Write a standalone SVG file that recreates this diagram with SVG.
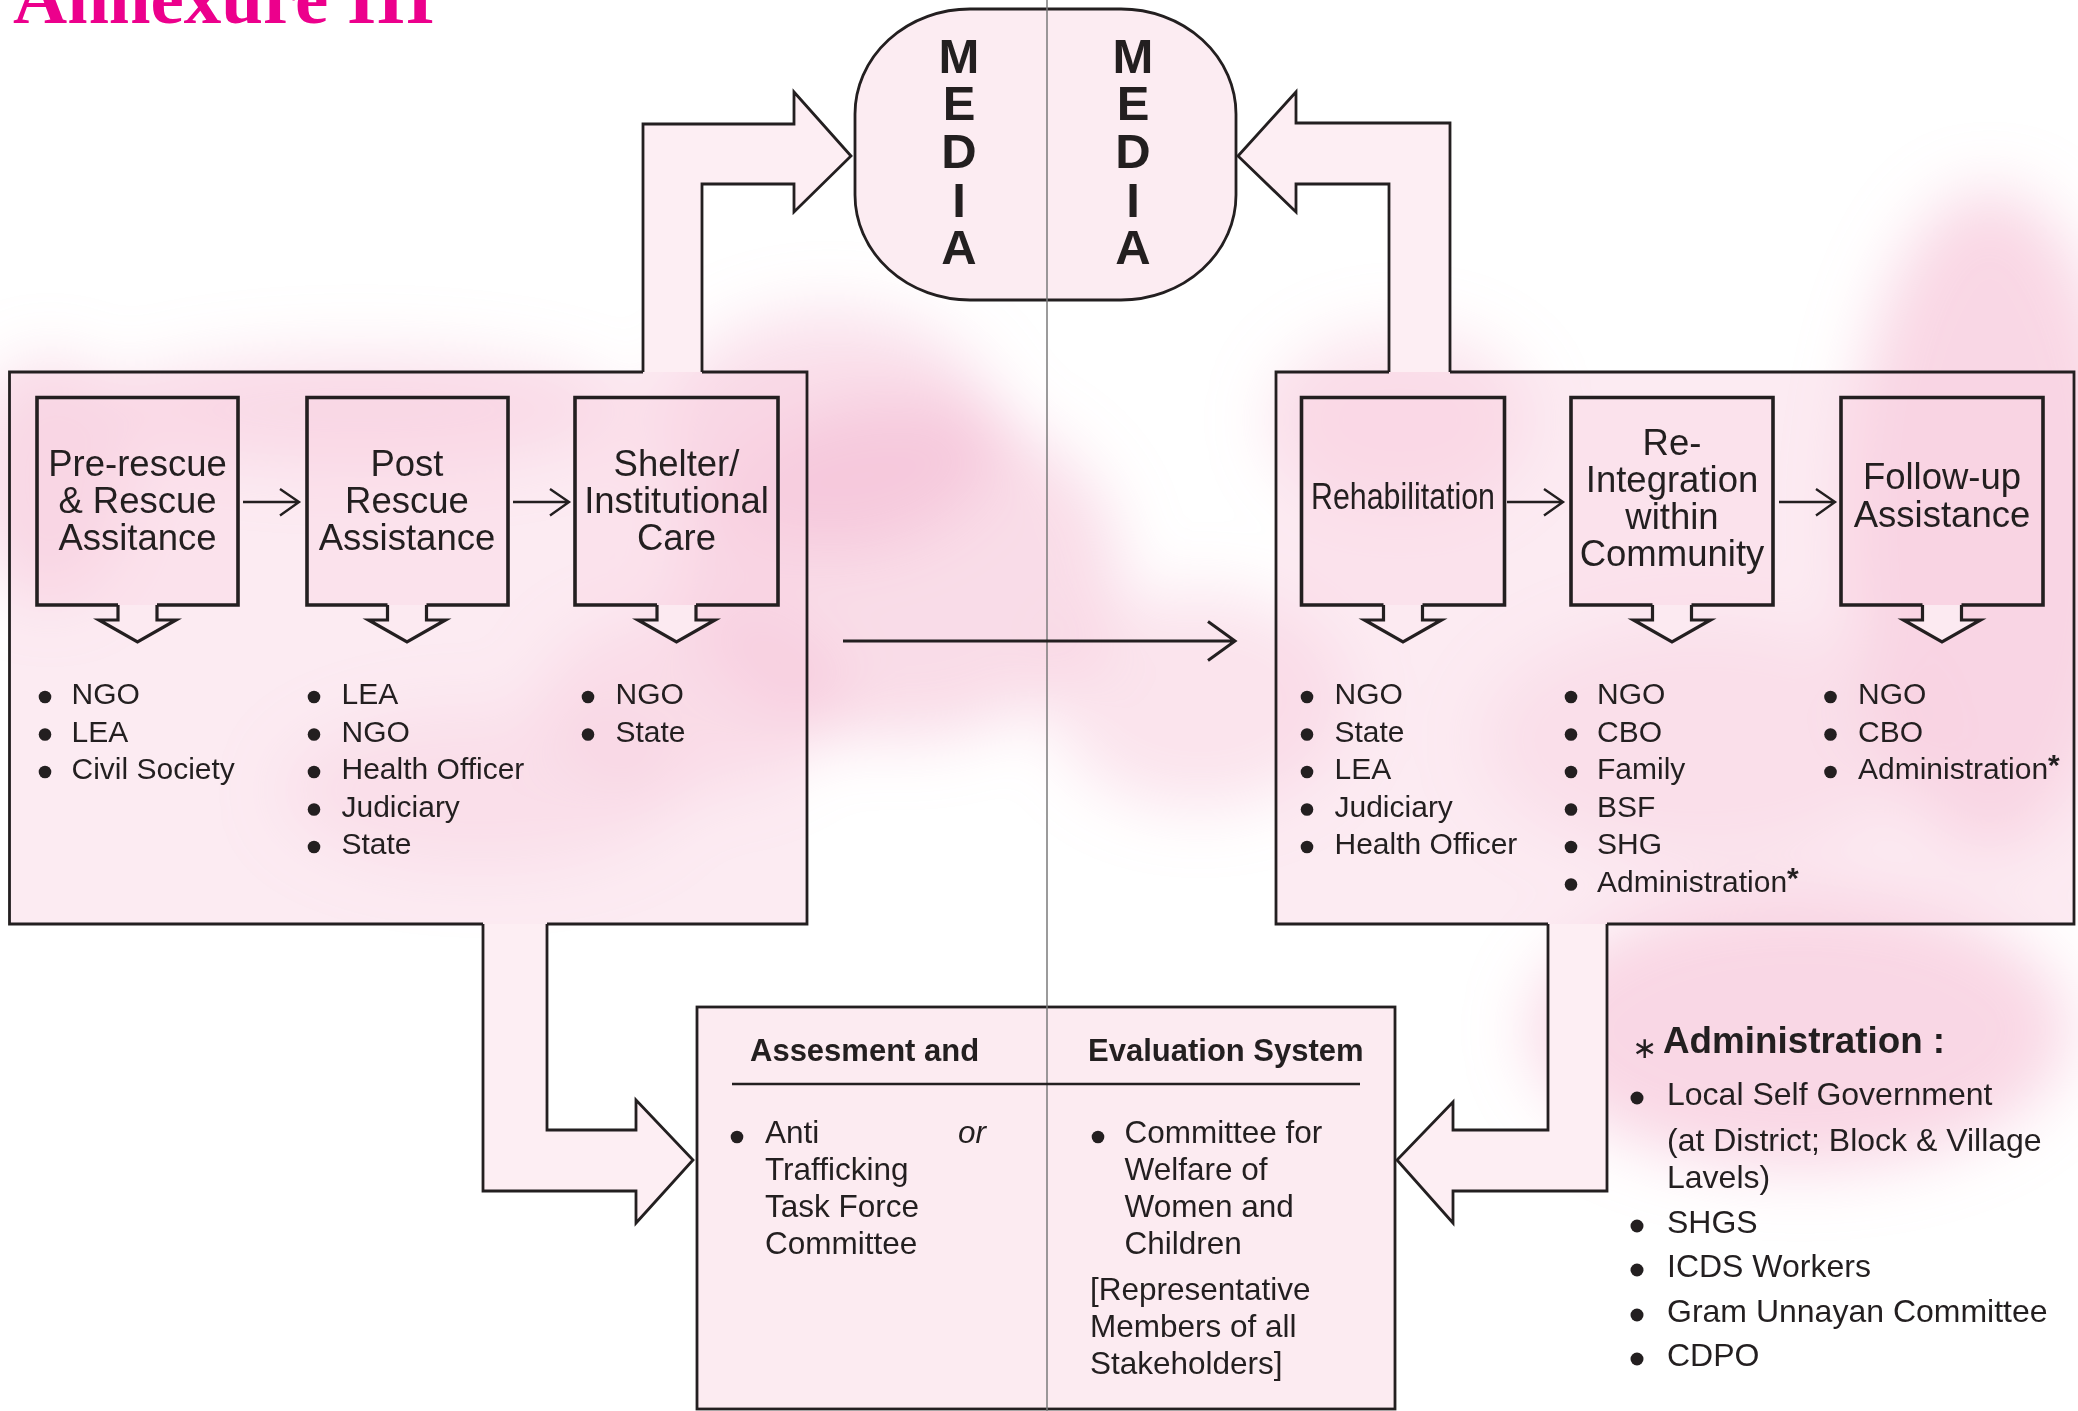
<svg xmlns="http://www.w3.org/2000/svg" width="2078" height="1411" viewBox="0 0 2078 1411">
<defs>
<filter id="smoke" x="-50%" y="-50%" width="200%" height="200%"><feGaussianBlur stdDeviation="32"/></filter>
<style>
.t{font-family:"Liberation Sans",Arial,sans-serif;fill:#231F20}
.bx{font-size:36.5px;text-anchor:middle}
.li{font-size:30px}
.ev{font-size:31.5px}
.lg{font-size:32px}
.hd{font-size:31px;font-weight:bold}
.md{font-size:49px;font-weight:bold;text-anchor:middle}
.ol{fill:none;stroke:#231F20;stroke-width:2.8;stroke-linejoin:miter}
.big{fill:#F9D3E2;fill-opacity:0.45;stroke:none}
.ib{fill:#F9D3E2;fill-opacity:0.35;stroke:#231F20;stroke-width:3.6;stroke-linejoin:miter}
.ba{fill:#FDEEF3;stroke:#231F20;stroke-width:2.8;stroke-linejoin:miter}
.da{fill:#FCEAF1;stroke:#231F20;stroke-width:3.2;stroke-linejoin:miter}
.sa{fill:none;stroke:#231F20;stroke-width:2.4}
.dot{fill:#231F20}
</style>
</defs>
<rect width="2078" height="1411" fill="#FFFFFF"/>
<g id="background-smoke" filter="url(#smoke)" fill="#F1A7C5">
<ellipse cx="900" cy="570" rx="220" ry="170" opacity="0.4"/>
<ellipse cx="830" cy="430" rx="170" ry="120" opacity="0.35"/>
<ellipse cx="50" cy="480" rx="80" ry="120" opacity="0.4"/>
<ellipse cx="360" cy="410" rx="260" ry="55" opacity="0.35"/>
<ellipse cx="1990" cy="520" rx="140" ry="330" opacity="0.45"/>
<ellipse cx="1800" cy="1030" rx="270" ry="140" opacity="0.45"/>
<ellipse cx="690" cy="700" rx="150" ry="90" opacity="0.3"/>
<ellipse cx="1200" cy="700" rx="150" ry="110" opacity="0.3"/>
<ellipse cx="480" cy="790" rx="200" ry="80" opacity="0.25"/>
<ellipse cx="1400" cy="420" rx="130" ry="90" opacity="0.3"/>
<ellipse cx="1700" cy="740" rx="220" ry="120" opacity="0.25"/>
</g>
<g id="title">
<text x="13" y="23" style="font-family:'Liberation Serif','Times New Roman',serif;font-weight:bold;font-size:75px;fill:#EC008C">Annexure III</text>
</g>
<g id="stage-rescue">
<rect class="big" x="9.5" y="372" width="797.5" height="552"/>
<path class="ol" d="M643,372 H9.5 V924 H483 M547,924 H807 V372 H702"/>
</g>
<g id="stage-reintegration">
<rect class="big" x="1276" y="372" width="798" height="552"/>
<path class="ol" d="M1389,372 H1276 V924 H1548 M1607,924 H2074 V372 H1450"/>
</g>
<g id="media">
<rect x="855" y="9" width="381" height="291" rx="115" ry="105" fill="#FCECF2" stroke="#231F20" stroke-width="2.8"/>
<text class="t md" x="959" y="73">M</text>
<text class="t md" x="959" y="120">E</text>
<text class="t md" x="959" y="168">D</text>
<text class="t md" x="959" y="217">I</text>
<text class="t md" x="959" y="264">A</text>
<text class="t md" x="1133" y="73">M</text>
<text class="t md" x="1133" y="120">E</text>
<text class="t md" x="1133" y="168">D</text>
<text class="t md" x="1133" y="217">I</text>
<text class="t md" x="1133" y="264">A</text>
</g>
<g id="assessment">
<rect x="697" y="1007" width="698" height="402" fill="#FCEBF1" stroke="#231F20" stroke-width="2.8"/>
</g>
<g id="divider">
<line x1="1047" y1="0" x2="1047" y2="1411" stroke="#7A7A7A" stroke-width="1.5"/>
</g>
<g id="connectors">
<path class="ba" d="M643,372 V124 H794 V92 L851,156 L794,212 V184 H702 V372"/>
<path class="ba" d="M1450,372 V123 H1296 V92 L1238,156 L1296,212 V184 H1389 V372"/>
<path class="ba" d="M483,924 V1191 H636 V1223 L693,1160 L636,1100 V1130 H547 V924"/>
<path class="ba" d="M1607,924 V1191 H1453 V1223 L1397,1160 L1453,1102 V1130 H1548 V924"/>
<path class="sa" d="M243,502 H298 M280,489 L299,502 L280,515.5"/>
<path class="sa" d="M513,502 H568 M550,489 L569,502 L550,515.5"/>
<path class="sa" d="M1507,502 H1562 M1544,489 L1563,502 L1544,515.5"/>
<path class="sa" d="M1779,502 H1834 M1816,489 L1835,502 L1816,515.5"/>
<path fill="none" stroke="#231F20" stroke-width="3" d="M843,641 H1234 M1208,621.5 L1235,641 L1208,660.5"/>
<path class="da" d="M118,605 V620 H99 L137.5,642 L176,620 H157 V605"/>
<path class="da" d="M387.5,605 V620 H368.5 L407,642 L445.5,620 H426.5 V605"/>
<path class="da" d="M657,605 V620 H638 L676.5,642 L715,620 H696 V605"/>
<path class="da" d="M1383.5,605 V620 H1364.5 L1403,642 L1441.5,620 H1422.5 V605"/>
<path class="da" d="M1652.5,605 V620 H1633.5 L1672,642 L1710.5,620 H1691.5 V605"/>
<path class="da" d="M1922.5,605 V620 H1903.5 L1942,642 L1980.5,620 H1961.5 V605"/>
</g>
<g id="pre-rescue">
<path class="ib" d="M118,605 H37 V397.5 H238 V605 H157"/>
<text class="t bx" x="137.5" y="476">Pre-rescue</text>
<text class="t bx" x="137.5" y="513">&amp; Rescue</text>
<text class="t bx" x="137.5" y="550">Assitance</text>
<circle class="dot" cx="45" cy="697" r="6.3"/><text class="t li" x="71.5" y="704">NGO</text>
<circle class="dot" cx="45" cy="734.5" r="6.3"/><text class="t li" x="71.5" y="741.5">LEA</text>
<circle class="dot" cx="45" cy="772" r="6.3"/><text class="t li" x="71.5" y="779">Civil Society</text>
</g>
<g id="post-rescue">
<path class="ib" d="M387.5,605 H307 V397.5 H508 V605 H426.5"/>
<text class="t bx" x="407" y="476">Post</text>
<text class="t bx" x="407" y="513">Rescue</text>
<text class="t bx" x="407" y="550">Assistance</text>
<circle class="dot" cx="314" cy="697" r="6.3"/><text class="t li" x="341.5" y="704">LEA</text>
<circle class="dot" cx="314" cy="734.5" r="6.3"/><text class="t li" x="341.5" y="741.5">NGO</text>
<circle class="dot" cx="314" cy="772" r="6.3"/><text class="t li" x="341.5" y="779">Health Officer</text>
<circle class="dot" cx="314" cy="809.5" r="6.3"/><text class="t li" x="341.5" y="816.5">Judiciary</text>
<circle class="dot" cx="314" cy="847" r="6.3"/><text class="t li" x="341.5" y="854">State</text>
</g>
<g id="shelter">
<path class="ib" d="M657,605 H575 V397.5 H778 V605 H696"/>
<text class="t bx" x="676.5" y="476">Shelter/</text>
<text class="t bx" x="676.5" y="513">Institutional</text>
<text class="t bx" x="676.5" y="550">Care</text>
<circle class="dot" cx="588" cy="697" r="6.3"/><text class="t li" x="615.5" y="704">NGO</text>
<circle class="dot" cx="588" cy="734.5" r="6.3"/><text class="t li" x="615.5" y="741.5">State</text>
</g>
<g id="rehabilitation">
<path class="ib" d="M1383.5,605 H1301.5 V397.5 H1504.5 V605 H1422.5"/>
<text class="t bx" x="1403" y="509" textLength="184" lengthAdjust="spacingAndGlyphs">Rehabilitation</text>
<circle class="dot" cx="1307" cy="697" r="6.3"/><text class="t li" x="1334.5" y="704">NGO</text>
<circle class="dot" cx="1307" cy="734.5" r="6.3"/><text class="t li" x="1334.5" y="741.5">State</text>
<circle class="dot" cx="1307" cy="772" r="6.3"/><text class="t li" x="1334.5" y="779">LEA</text>
<circle class="dot" cx="1307" cy="809.5" r="6.3"/><text class="t li" x="1334.5" y="816.5">Judiciary</text>
<circle class="dot" cx="1307" cy="847" r="6.3"/><text class="t li" x="1334.5" y="854">Health Officer</text>
</g>
<g id="reintegration">
<path class="ib" d="M1652.5,605 H1571 V397.5 H1773 V605 H1691.5"/>
<text class="t bx" x="1672" y="455">Re-</text>
<text class="t bx" x="1672" y="492">Integration</text>
<text class="t bx" x="1672" y="529">within</text>
<text class="t bx" x="1672" y="566">Community</text>
<circle class="dot" cx="1571" cy="697" r="6.3"/><text class="t li" x="1597" y="704">NGO</text>
<circle class="dot" cx="1571" cy="734.5" r="6.3"/><text class="t li" x="1597" y="741.5">CBO</text>
<circle class="dot" cx="1571" cy="772" r="6.3"/><text class="t li" x="1597" y="779">Family</text>
<circle class="dot" cx="1571" cy="809.5" r="6.3"/><text class="t li" x="1597" y="816.5">BSF</text>
<circle class="dot" cx="1571" cy="847" r="6.3"/><text class="t li" x="1597" y="854">SHG</text>
<circle class="dot" cx="1571" cy="884.5" r="6.3"/><text class="t li" x="1597" y="891.5">Administration<tspan font-weight="bold" dy="-4">*</tspan></text>
</g>
<g id="follow-up">
<path class="ib" d="M1922.5,605 H1841 V397.5 H2043 V605 H1961.5"/>
<text class="t bx" x="1942" y="489">Follow-up</text>
<text class="t bx" x="1942" y="527">Assistance</text>
<circle class="dot" cx="1830.5" cy="697" r="6.3"/><text class="t li" x="1858" y="704">NGO</text>
<circle class="dot" cx="1830.5" cy="734.5" r="6.3"/><text class="t li" x="1858" y="741.5">CBO</text>
<circle class="dot" cx="1830.5" cy="772" r="6.3"/><text class="t li" x="1858" y="779">Administration<tspan font-weight="bold" dy="-4">*</tspan></text>
</g>
<g id="assessment-content">
<text class="t hd" x="750" y="1061">Assesment and</text>
<text class="t hd" x="1088" y="1061">Evaluation System</text>
<line x1="732" y1="1084" x2="1360" y2="1084" stroke="#231F20" stroke-width="2.6"/>
<circle class="dot" cx="737" cy="1137" r="6.3"/>
<text class="t ev" x="765" y="1143">Anti</text>
<text class="t ev" x="958" y="1143" font-style="italic">or</text>
<text class="t ev" x="765" y="1180">Trafficking</text>
<text class="t ev" x="765" y="1217">Task Force</text>
<text class="t ev" x="765" y="1254">Committee</text>
<circle class="dot" cx="1098" cy="1137" r="6.3"/>
<text class="t ev" x="1124.5" y="1143">Committee for</text>
<text class="t ev" x="1124.5" y="1180">Welfare of</text>
<text class="t ev" x="1124.5" y="1217">Women and</text>
<text class="t ev" x="1124.5" y="1254">Children</text>
<text class="t ev" x="1090" y="1300">[Representative</text>
<text class="t ev" x="1090" y="1337">Members of all</text>
<text class="t ev" x="1090" y="1374">Stakeholders]</text>
</g>
<g id="legend">
<text class="t" x="1632" y="1058" style="font-family:'DejaVu Sans',sans-serif;font-size:30px">∗</text>
<text class="t" x="1663" y="1053" style="font-size:36.8px;font-weight:bold">Administration :</text>
<circle class="dot" cx="1637" cy="1098" r="6.5"/><text class="t lg" x="1667" y="1105">Local Self Government</text>
<text class="t lg" x="1667" y="1151">(at District; Block &amp; Village</text>
<text class="t lg" x="1667" y="1188">Lavels)</text>
<circle class="dot" cx="1637" cy="1226" r="6.5"/><text class="t lg" x="1667" y="1233">SHGS</text>
<circle class="dot" cx="1637" cy="1270" r="6.5"/><text class="t lg" x="1667" y="1277">ICDS Workers</text>
<circle class="dot" cx="1637" cy="1315" r="6.5"/><text class="t lg" x="1667" y="1322">Gram Unnayan Committee</text>
<circle class="dot" cx="1637" cy="1359" r="6.5"/><text class="t lg" x="1667" y="1366">CDPO</text>
</g>
</svg>
